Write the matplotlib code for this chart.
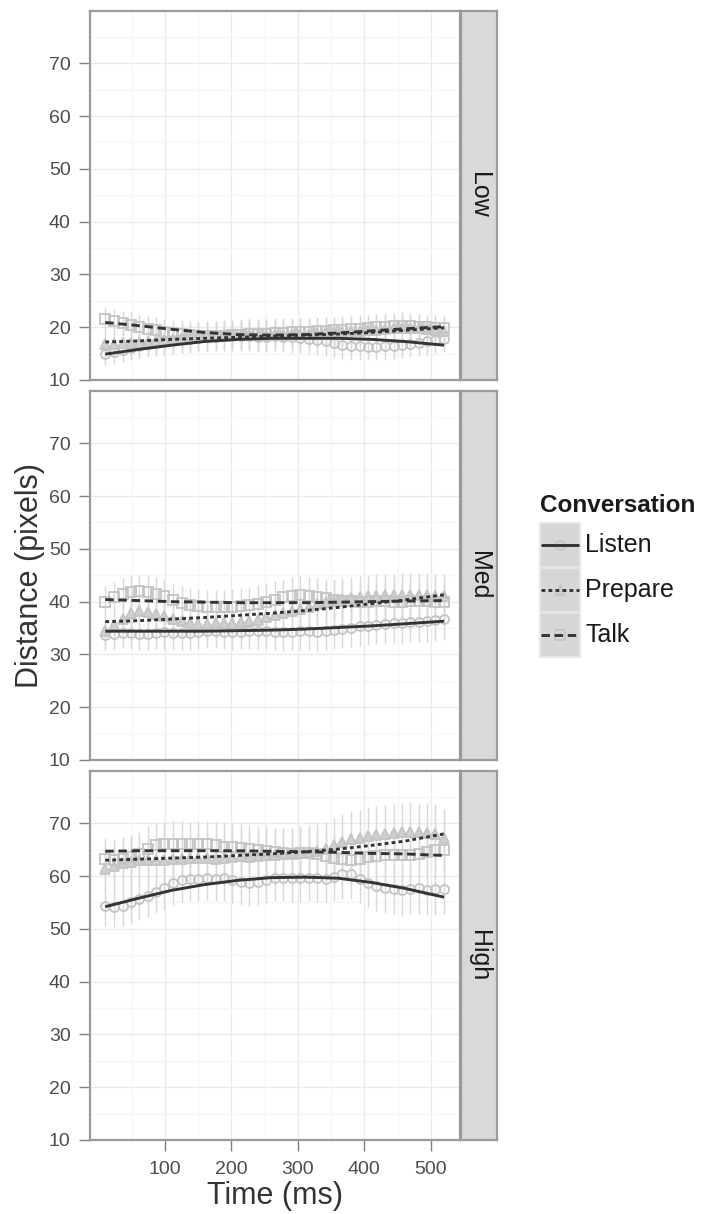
import numpy as np
import matplotlib
matplotlib.use("Agg")
import matplotlib.pyplot as plt
from matplotlib.patches import Rectangle
from matplotlib.lines import Line2D

plt.rcParams["font.family"] = ["Liberation Sans", "DejaVu Sans"]

# time bins (ms)
times = [10, 23, 36, 48, 61, 74, 87, 99, 112, 125, 138, 150, 163, 176, 189, 201,
         214, 227, 240, 252, 265, 278, 291, 303, 316, 329, 342, 354, 367, 380,
         393, 405, 418, 431, 444, 456, 469, 482, 495, 507, 520]
trend_times = [10, 60, 110, 160, 210, 260, 310, 360, 410, 460, 520]

levels = ["Low", "Med", "High"]
conversations = ["Listen", "Prepare", "Talk"]

# Low
low_listen = [15.0, 15.3, 15.7, 16.1, 16.5, 16.8, 17.1, 17.3, 17.5, 17.7, 17.8, 18.0, 18.1, 18.2,
              18.3, 18.3, 18.3, 18.3, 18.2, 18.2, 18.3, 18.2, 18.1, 18.0, 17.8, 17.6, 17.3, 17.0,
              16.7, 16.5, 16.4, 16.3, 16.3, 16.4, 16.5, 16.6, 16.8, 17.0, 17.3, 17.5, 17.7]
low_prepare = [16.8, 16.9, 17.0, 17.0, 17.1, 17.2, 17.3, 17.5, 17.7, 17.9, 18.0, 18.2, 18.3, 18.4,
               18.5, 18.5, 18.6, 18.6, 18.5, 18.5, 18.6, 18.6, 18.7, 18.8, 18.8, 18.9, 19.0, 19.0,
               19.1, 19.2, 19.3, 19.4, 19.5, 19.7, 19.8, 19.9, 19.9, 19.8, 19.7, 19.5, 19.2]
low_talk = [21.6, 21.2, 20.8, 20.4, 20.0, 19.7, 19.4, 19.1, 18.9, 18.7, 18.5, 18.4, 18.3, 18.3,
            18.4, 18.5, 18.6, 18.7, 18.7, 18.8, 18.9, 18.9, 19.0, 19.1, 19.1, 19.2, 19.3, 19.4,
            19.5, 19.6, 19.7, 19.8, 20.0, 20.1, 20.2, 20.3, 20.2, 20.1, 20.0, 19.9, 19.8]
low_listen_err = [2.2, 2.2, 2.3, 2.3, 2.4, 2.4, 2.5, 2.5, 2.6, 2.6, 2.6, 2.7, 2.7, 2.7, 2.8, 2.8,
                  2.8, 2.8, 2.9, 2.9, 2.9, 2.9, 2.9, 2.8, 2.8, 2.8, 2.7, 2.7, 2.7, 2.7, 2.6, 2.6,
                  2.6, 2.6, 2.6, 2.5, 2.5, 2.5, 2.5, 2.4, 2.4]
low_prepare_err = [2.4, 2.4, 2.4, 2.5, 2.5, 2.5, 2.6, 2.6, 2.6, 2.7, 2.7, 2.7, 2.8, 2.8, 2.8, 2.9,
                   2.9, 2.9, 3.0, 3.0, 3.0, 2.9, 2.9, 2.9, 2.8, 2.8, 2.8, 2.7, 2.7, 2.7, 2.7, 2.6,
                   2.6, 2.6, 2.6, 2.6, 2.5, 2.5, 2.5, 2.5, 2.5]
low_talk_err = [2.3, 2.3, 2.3, 2.4, 2.4, 2.4, 2.5, 2.5, 2.5, 2.6, 2.6, 2.6, 2.7, 2.7, 2.7, 2.7,
                2.8, 2.8, 2.8, 2.8, 2.8, 2.8, 2.8, 2.7, 2.7, 2.7, 2.7, 2.6, 2.6, 2.6, 2.6, 2.6,
                2.5, 2.5, 2.5, 2.5, 2.5, 2.4, 2.4, 2.4, 2.4]
low_listen_trend = [14.9, 15.8, 16.6, 17.3, 17.7, 17.9, 17.9, 17.9, 17.7, 17.3, 16.6]
low_prepare_trend = [17.2, 17.4, 17.7, 17.9, 18.1, 18.3, 18.5, 18.7, 19.0, 19.4, 19.9]
low_talk_trend = [20.9, 20.3, 19.6, 19.0, 18.6, 18.5, 18.6, 18.9, 19.3, 19.7, 20.1]

# Med
med_listen = [33.7, 33.9, 34.1, 34.0, 33.8, 33.9, 34.1, 34.2, 34.1, 34.0, 34.1, 34.3, 34.4, 34.5,
              34.3, 34.2, 34.3, 34.4, 34.5, 34.4, 34.3, 34.2, 34.3, 34.4, 34.4, 34.3, 34.4, 34.6,
              34.9, 35.1, 35.3, 35.4, 35.6, 35.8, 35.9, 36.0, 36.1, 36.2, 36.3, 36.5, 36.7]
med_prepare = [34.5, 35.5, 36.8, 37.8, 38.2, 38.0, 37.6, 37.2, 36.8, 36.4, 36.0, 35.8, 35.8, 35.9,
               36.0, 36.0, 36.1, 36.3, 36.6, 37.0, 37.4, 37.8, 38.2, 38.6, 39.0, 39.5, 39.9, 40.2,
               40.5, 40.7, 40.9, 41.0, 41.1, 41.2, 41.2, 41.3, 41.3, 41.2, 41.2, 41.1, 41.0]
med_talk = [40.0, 40.8, 41.5, 41.9, 42.0, 41.9, 41.5, 41.0, 40.4, 39.8, 39.4, 39.1, 39.0, 39.0,
            38.9, 39.0, 39.1, 39.3, 39.6, 40.0, 40.4, 40.8, 41.1, 41.2, 41.1, 40.9, 40.6, 40.4,
            40.2, 40.1, 40.0, 40.0, 40.1, 40.1, 40.0, 40.0, 40.1, 40.2, 40.1, 40.0, 40.0]
med_listen_err = [2.8, 2.8, 2.9, 2.9, 3.0, 3.0, 3.0, 3.1, 3.1, 3.1, 3.2, 3.2, 3.2, 3.3, 3.3, 3.3,
                  3.3, 3.4, 3.4, 3.4, 3.4, 3.5, 3.5, 3.5, 3.5, 3.6, 3.6, 3.6, 3.6, 3.7, 3.7, 3.7,
                  3.7, 3.8, 3.8, 3.8, 3.8, 3.9, 3.9, 3.9, 3.9]
med_prepare_err = [3.0, 3.0, 3.1, 3.1, 3.2, 3.2, 3.2, 3.3, 3.3, 3.3, 3.4, 3.4, 3.4, 3.4, 3.5, 3.5,
                   3.5, 3.6, 3.6, 3.6, 3.7, 3.7, 3.7, 3.8, 3.8, 3.8, 3.9, 3.9, 3.9, 4.0, 4.0, 4.0,
                   4.1, 4.1, 4.1, 4.2, 4.2, 4.2, 4.2, 4.2, 4.2]
med_talk_err = [2.9, 2.9, 3.0, 3.0, 3.0, 3.1, 3.1, 3.1, 3.2, 3.2, 3.2, 3.3, 3.3, 3.3, 3.3, 3.4,
                3.4, 3.4, 3.5, 3.5, 3.5, 3.5, 3.6, 3.6, 3.6, 3.6, 3.7, 3.7, 3.7, 3.7, 3.8, 3.8,
                3.8, 3.8, 3.9, 3.9, 3.9, 3.9, 4.0, 4.0, 4.0]
med_listen_trend = [34.4, 34.4, 34.4, 34.4, 34.5, 34.6, 34.8, 35.1, 35.4, 35.8, 36.3]
med_prepare_trend = [36.2, 36.4, 36.7, 37.0, 37.4, 37.8, 38.3, 38.9, 39.6, 40.3, 41.3]
med_talk_trend = [40.4, 40.2, 40.0, 39.9, 39.8, 39.8, 39.8, 39.9, 40.0, 40.1, 40.2]

# High
high_listen = [54.3, 54.2, 54.4, 55.0, 55.6, 56.3, 57.0, 57.8, 58.6, 59.2, 59.4, 59.5, 59.6, 59.5,
               59.6, 59.2, 58.8, 58.7, 58.9, 59.3, 59.6, 59.6, 59.6, 59.6, 59.7, 59.6, 59.5, 59.8,
               60.3, 60.3, 59.5, 58.7, 58.1, 57.7, 57.5, 57.4, 57.5, 57.7, 57.4, 57.5, 57.6]
high_prepare = [61.3, 61.9, 62.4, 62.7, 63.0, 63.0, 63.1, 63.0, 63.2, 63.3, 63.4, 63.5, 63.4, 63.3,
                63.5, 63.6, 63.8, 63.7, 63.8, 64.0, 64.0, 64.2, 64.3, 64.4, 64.6, 64.8, 65.2, 65.8,
                66.5, 67.0, 67.3, 67.6, 67.8, 68.0, 68.2, 68.3, 68.4, 68.3, 68.2, 68.0, 67.2]
high_talk = [63.2, 63.0, 63.3, 63.6, 64.2, 65.2, 65.8, 66.0, 66.1, 66.1, 66.0, 66.1, 66.0, 65.8,
             65.6, 65.6, 65.4, 65.2, 65.0, 64.8, 64.5, 64.3, 64.2, 64.3, 64.4, 64.2, 63.8, 63.4,
             63.2, 63.1, 63.3, 63.6, 63.8, 63.9, 64.0, 63.9, 64.0, 64.2, 64.6, 65.0, 65.0]
high_listen_err = [3.8, 3.8, 3.9, 3.9, 4.0, 4.0, 4.0, 4.1, 4.1, 4.1, 4.2, 4.2, 4.2, 4.2, 4.3, 4.3,
                   4.3, 4.3, 4.4, 4.4, 4.4, 4.4, 4.5, 4.5, 4.5, 4.5, 4.5, 4.6, 4.6, 4.6, 4.6, 4.6,
                   4.7, 4.7, 4.7, 4.7, 4.7, 4.8, 4.8, 4.8, 4.8]
high_prepare_err = [4.2, 4.2, 4.3, 4.3, 4.3, 4.4, 4.4, 4.4, 4.5, 4.5, 4.5, 4.6, 4.6, 4.6, 4.7, 4.7,
                    4.7, 4.8, 4.8, 4.8, 4.9, 4.9, 4.9, 5.0, 5.0, 5.1, 5.1, 5.2, 5.2, 5.3, 5.3, 5.4,
                    5.4, 5.5, 5.5, 5.5, 5.6, 5.6, 5.6, 5.6, 5.6]
high_talk_err = [4.0, 4.0, 4.1, 4.1, 4.1, 4.2, 4.2, 4.2, 4.3, 4.3, 4.3, 4.4, 4.4, 4.4, 4.4, 4.5,
                 4.5, 4.5, 4.5, 4.6, 4.6, 4.6, 4.6, 4.7, 4.7, 4.7, 4.7, 4.8, 4.8, 4.8, 4.8, 4.9,
                 4.9, 4.9, 4.9, 5.0, 5.0, 5.0, 5.0, 5.0, 5.0]
high_listen_trend = [54.2, 55.8, 57.3, 58.4, 59.2, 59.7, 59.8, 59.6, 58.8, 57.7, 56.0]
high_prepare_trend = [63.0, 63.2, 63.4, 63.6, 63.9, 64.2, 64.6, 65.1, 65.8, 66.6, 68.0]
high_talk_trend = [64.7, 64.8, 64.8, 64.8, 64.8, 64.7, 64.6, 64.5, 64.3, 64.2, 63.9]

values = {
    "Low": [low_listen, low_prepare, low_talk],
    "Med": [med_listen, med_prepare, med_talk],
    "High": [high_listen, high_prepare, high_talk],
}
errors = {
    "Low": [low_listen_err, low_prepare_err, low_talk_err],
    "Med": [med_listen_err, med_prepare_err, med_talk_err],
    "High": [high_listen_err, high_prepare_err, high_talk_err],
}
trends = {
    "Low": [low_listen_trend, low_prepare_trend, low_talk_trend],
    "Med": [med_listen_trend, med_prepare_trend, med_talk_trend],
    "High": [high_listen_trend, high_prepare_trend, high_talk_trend],
}

MARKERS = {"Listen": "o", "Prepare": "^", "Talk": "s"}
MFC = {"Listen": "none", "Prepare": "#cfcfcf", "Talk": "none"}
DASHES = {"Listen": None, "Prepare": (1.3, 1.1), "Talk": (2.9, 1.6)}
LINE_COL = "#333333"
BORDER = "#9a9a9a"

W, H = 703, 1214
fig = plt.figure(figsize=(W / 100, H / 100), dpi=100)


def px_rect(x0, y0, x1, y1):
    return [x0 / W, 1 - y1 / H, (x1 - x0) / W, (y1 - y0) / H]


panel_tops = [10.5, 390.5, 770.5]
panel_h = 369.5
x_left, x_right, strip_right = 90, 460, 497

for k, level in enumerate(levels):
    top = panel_tops[k]
    ax = fig.add_axes(px_rect(x_left, top, x_right, top + panel_h))
    ax.set_xlim(-13, 544)
    ax.set_ylim(10, 80)
    ax.set_xticks([100, 200, 300, 400, 500])
    ax.set_xticks([50, 150, 250, 350, 450], minor=True)
    ax.set_yticks([10, 20, 30, 40, 50, 60, 70])
    ax.set_yticks([15, 25, 35, 45, 55, 65, 75], minor=True)
    ax.grid(which="major", color="#ebebeb", lw=1.0)
    ax.grid(which="minor", color="#f5f5f5", lw=0.9)
    ax.set_axisbelow(True)
    for sp in ax.spines.values():
        sp.set_color(BORDER)
        sp.set_linewidth(1.6)
    ax.tick_params(which="major", length=8, width=1.0, color="#7f7f7f",
                   labelsize=14, labelcolor="#4d4d4d", pad=6)
    ax.tick_params(which="minor", length=0)
    ax.tick_params(axis="x", pad=7)
    if k < 2:
        ax.tick_params(axis="x", which="both", length=0, labelbottom=False)

    for j, conv in enumerate(conversations):
        ax.errorbar(times, values[level][j], yerr=errors[level][j], fmt="none",
                    ecolor="#d8d8d8", elinewidth=1.0, capsize=0, zorder=2)
        ax.plot(times, values[level][j], ls="none", marker=MARKERS[conv], ms=6.5,
                mfc=MFC[conv], mec="#c4c4c4", mew=1.3, zorder=3)
    # smoothed trend per conversation
    for j, conv in enumerate(conversations):
        ln, = ax.plot(trend_times, trends[level][j], color=LINE_COL, lw=2.1, zorder=4,
                      solid_capstyle="butt", dash_capstyle="butt",
                      solid_joinstyle="round")
        if DASHES[conv] is not None:
            ln.set_dashes(DASHES[conv])

    # facet strip
    sax = fig.add_axes(px_rect(x_right + 1, top, strip_right, top + panel_h))
    sax.set_facecolor("#d9d9d9")
    sax.set_xticks([])
    sax.set_yticks([])
    for sp in sax.spines.values():
        sp.set_color(BORDER)
        sp.set_linewidth(1.6)
    sax.text(0.5, 0.5, level, rotation=270, ha="center", va="center",
             fontsize=18, color="#1a1a1a", transform=sax.transAxes)

fig.text((x_left + x_right) / 2 / W, 1 - 1196 / H, "Time (ms)", ha="center",
         va="center", fontsize=22, color="#333333")
fig.text(30 / W, 1 - 575 / H, "Distance (pixels)", ha="center", va="center",
         rotation=90, fontsize=22, color="#333333")

# legend
fig.text(540 / W, 1 - 505 / H, "Conversation", ha="left", va="center",
         fontsize=17.5, fontweight="bold", color="#1a1a1a")
key_tops = [523, 568, 613]
for conv, kt in zip(conversations, key_tops):
    fig.patches.append(Rectangle((540 / W, 1 - (kt + 44) / H), 40 / W, 44 / H,
                                 transform=fig.transFigure, facecolor="#d6d6d6",
                                 edgecolor="#e6e6e6", lw=1.5))
    yc = 1 - (kt + 22) / H
    fig.lines.append(Line2D([560 / W], [yc], transform=fig.transFigure, ls="none",
                            marker=MARKERS[conv], ms=6.5, mfc=MFC[conv], mec="#c4c4c4",
                            mew=1.3))
    kl = Line2D([541 / W, 579 / W], [yc, yc], transform=fig.transFigure,
                color=LINE_COL, lw=2.1, solid_capstyle="butt", dash_capstyle="butt")
    if DASHES[conv] is not None:
        kl.set_dashes(DASHES[conv])
    fig.lines.append(kl)
    fig.text(585 / W, yc, conv, ha="left", va="center", fontsize=18, color="#1a1a1a")

fig.savefig("out.png", dpi=100)
